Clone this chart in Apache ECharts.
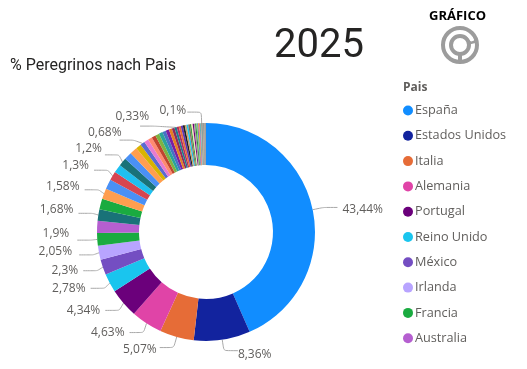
<!DOCTYPE html>
<html><head><meta charset="utf-8">
<style>html,body{margin:0;padding:0;background:#fff}#c{width:527px;height:369px}</style>
<script src="https://cdn.jsdelivr.net/npm/echarts@6/dist/echarts.min.js"></script>
</head><body><div id="c"></div>
<script>
const legendNames = ['España','Estados Unidos','Italia','Alemania','Portugal','Reino Unido','México','Irlanda','Francia','Australia'];
const values = [43.44,8.36,5.07,4.63,4.34,2.78,2.3,2.05,1.9,1.78,1.68,1.6,1.58,1.45,1.3,1.25,1.2,1.15,1.1,0.8,0.68,
  0.66,0.62,0.6,0.58,0.55,0.52,0.5,0.45,0.4,0.33,0.32,0.31,0.3,0.28,0.27,0.25,0.24,0.22,0.2,0.19,0.18,0.16,0.15,0.14,0.13,0.12,0.11,0.1,0.1,0.1,0.09,0.09,0.08,0.08,0.07,0.07];
const colors = ['#118DFF','#12239E','#E66C37','#E044A7','#6B007B','#1AC5EE','#744EC2','#B8A4FF','#1AAB40','#B55FD0','#197278','#1AAB40','#FF9E4F','#4A90F5','#D64550','#1FBFEF','#197278','#4A90F5','#FF9E4F','#D9B300','#5B6BD0',
  '#E87BD0','#FF8A70','#C0452F','#7DB343','#2AA39A','#4472C4','#7B1FA2','#E67E22','#8E2A5B','#1C7C8C','#B03060','#E66C37','#5E35B1','#222222','#C9A26B','#1AC5EE','#8D6E63','#43A047','#F5E6B8','#6B007B','#9E9E9E','#2E7D32','#66E06A','#744EC2','#D9B300','#E044A7','#26A69A','#B0B0B0','#7E6B5A','#5F8A8B','#BFA58A','#6D6D6D','#A08C7A','#8C8C8C','#5A5A5A','#9A8F80'];
const labelled = [43.44,8.36,5.07,4.63,4.34,2.78,2.3,2.05,1.9,1.68,1.58,1.3,1.2,0.68,0.33];
const lastLabelIndex = 49; // the 0,1% slice that carries a label
// small nudges of the labels, by slice index
const labelNudgeY = {0:2,1:4,2:2,8:-7,7:-3,10:-4,12:-3,14:-5,16:-6,20:-8,30:-10,49:-2};
const labelNudgeX = {1:-5,2:2,7:-2,8:-3,16:2,20:7,30:14,49:4};
const seriesData = values.map((v,i)=>({
  name: i<legendNames.length ? legendNames[i] : 'Otros '+(i-9),
  value:v,
  itemStyle:{color:colors[i]},
  label:{show: labelled.includes(v) || i===lastLabelIndex},
  labelLine:{show: labelled.includes(v) || i===lastLabelIndex}
}));
const gray='#9c9c9c';
const chart = echarts.init(document.getElementById('c'),null,{renderer:'canvas'});
chart.setOption({
  animation:false,
  color:colors,
  title:[
    {text:'% Peregrinos nach Pais',left:5,top:53,textStyle:{fontFamily:'Roboto',fontSize:16,fontWeight:400,color:'#252423'}},
    {text:'2025',left:269,top:22,textStyle:{fontFamily:'Roboto',fontSize:40,fontWeight:400,color:'#252423'}},
    {text:'GRÁFICO',left:424,top:5,textStyle:{fontFamily:'Open Sans',fontSize:13,fontWeight:700,color:'#000'}},
    {text:'Pais',left:398,top:77,textStyle:{fontFamily:'Open Sans',fontSize:12,fontWeight:700,color:'#605E5C'}}
  ],
  legend:{
    orient:'vertical',left:398,top:98,icon:'circle',itemWidth:10,itemHeight:10,itemGap:10.3,
    data:legendNames,
    textStyle:{fontFamily:'Open Sans',fontSize:12.7,color:'#605E5C',padding:[0,0,0,-3],height:15,lineHeight:15},
    selectedMode:false
  },
  graphic:[
    {type:'circle',shape:{cx:460,cy:45,r:17},style:{fill:'none',stroke:gray,lineWidth:4}},
    {type:'circle',shape:{cx:460,cy:45,r:9},style:{fill:'none',stroke:gray,lineWidth:4}},
    {type:'line',shape:{x1:460,y1:54,x2:460,y2:62},style:{stroke:gray,lineWidth:4}},
    {type:'line',shape:{x1:469,y1:43,x2:477,y2:41},style:{stroke:gray,lineWidth:3}},
    {type:'arc',shape:{cx:460,cy:45,r:13,startAngle:-0.95,endAngle:-0.3},style:{fill:'none',stroke:'#fff',lineWidth:3}}
  ],
  series:[{
    type:'pie',center:[206,232],radius:[67,109],startAngle:90,clockwise:true,
    avoidLabelOverlap:true,minShowLabelAngle:0,
    data:seriesData,
    label:{show:false,position:'outside',fontFamily:'Open Sans',fontSize:12,color:'#605E5C',
      formatter:p=>String(p.value).replace('.',',')+'%'},
    labelLine:{show:false,length:11,length2:14,smooth:0.15,lineStyle:{color:'#a8a8a8',width:1}},
    labelLayout:p=>({dx:labelNudgeX[p.dataIndex]||0,dy:labelNudgeY[p.dataIndex]||0}),
    emphasis:{disabled:true}
  }]
});
</script></body></html>
